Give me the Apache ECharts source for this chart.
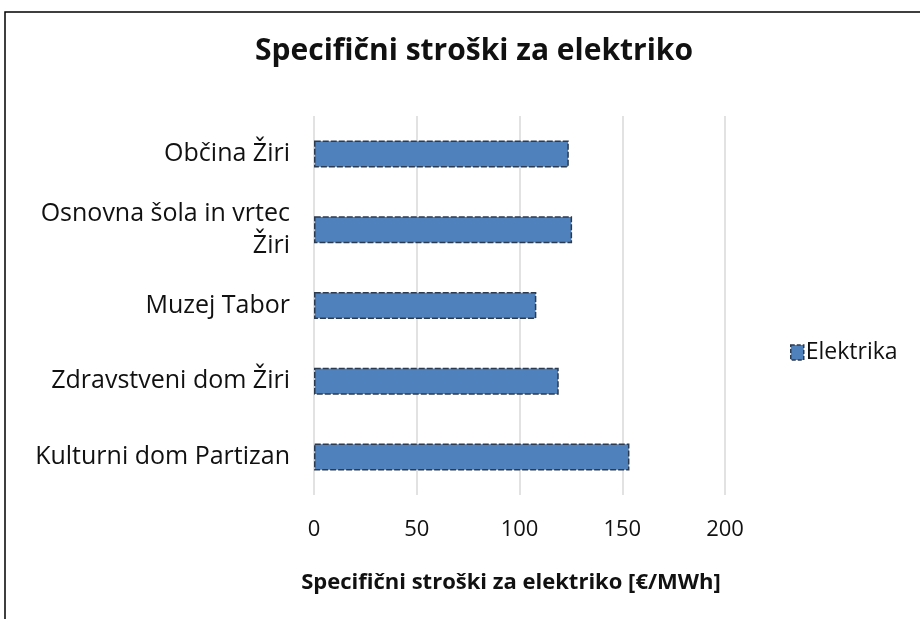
<!DOCTYPE html>
<html>
<head>
<meta charset="utf-8">
<script src="https://cdn.jsdelivr.net/npm/echarts@6/dist/echarts.min.js"></script>
<style>
  html, body { margin: 0; padding: 0; background: #fff; }
  #chart { width: 920px; height: 619px; }
</style>
</head>
<body>
<div id="chart"></div>
<script>
// top to bottom as shown
const categories = [
  'Občina Žiri',
  'Osnovna šola in vrtec\nŽiri',
  'Muzej Tabor',
  'Zdravstveni dom Žiri',
  'Kulturni dom Partizan'
];
const elektrika = [124, 125.6, 108.2, 119.1, 153.5];
const xTicks = [0, 50, 100, 150, 200];

const FONT = '"Open Sans", "Noto Sans", sans-serif';
const TXT = '#111';

const chart = echarts.init(document.getElementById('chart'));
chart.setOption({
  animation: false,
  backgroundColor: '#fff',
  title: {
    text: 'Specifični stroški za elektriko',
    left: 469, top: 31, textAlign: 'center',
    textStyle: { fontFamily: FONT, fontSize: 30, fontWeight: 'bold', color: TXT }
  },
  legend: {
    data: ['Elektrika'],
    left: 790, top: 341, padding: 0,
    icon: 'rect',
    itemWidth: 13, itemHeight: 15, itemGap: 4,
    itemStyle: { borderColor: '#2c3a4f', borderWidth: 1.5, borderType: [4, 2] },
    textStyle: { fontFamily: FONT, fontSize: 23, color: TXT, padding: [0, 0, 0, -3] }
  },
  grid: { left: 314, right: 195, top: 116, bottom: 124, containLabel: false },
  xAxis: {
    type: 'value',
    min: xTicks[0], max: xTicks[xTicks.length - 1], interval: 50,
    name: 'Specifični stroški za elektriko [€/MWh]',
    nameLocation: 'middle', nameGap: 77,
    nameTextStyle: { fontFamily: FONT, fontSize: 22, fontWeight: 'bold', color: TXT, padding: [0, 17, 0, 0] },
    axisLine: { show: false },
    axisTick: { show: false },
    axisLabel: { margin: 24, fontFamily: FONT, fontSize: 22, color: TXT },
    splitLine: { show: true, lineStyle: { color: '#d9d9d9', width: 1.5 } }
  },
  yAxis: {
    type: 'category',
    inverse: true,
    data: categories,
    axisLine: { show: false },
    axisTick: { show: false },
    axisLabel: { margin: 24, fontFamily: FONT, fontSize: 25, color: TXT, align: 'right', lineHeight: 32 }
  },
  series: [{
    name: 'Elektrika',
    type: 'bar',
    data: elektrika,
    barWidth: 27,
    itemStyle: {
      color: '#4f81bd',
      borderColor: '#2c3a4f',
      borderWidth: 1.5,
      borderType: [6, 2]
    }
  }],
  graphic: [{
    type: 'rect',
    shape: { x: 5, y: 12, width: 940, height: 640 },
    style: { fill: null, stroke: '#000', lineWidth: 1.5 },
    silent: true
  }]
});
</script>
</body>
</html>
